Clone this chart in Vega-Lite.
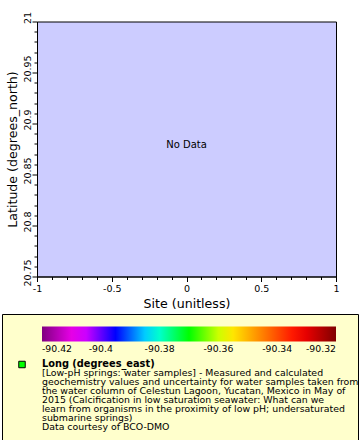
{
  "$schema": "https://vega.github.io/schema/vega-lite/v6.json",
  "padding": {"left": 1, "top": 10.5, "right": 0, "bottom": 0},
  "spacing": 2.5,
  "config": {
    "font": "DejaVu Sans",
    "view": {"stroke": "black", "strokeWidth": 1},
    "axis": {"grid": false, "domainColor": "black", "tickColor": "black", "labelColor": "black", "titleColor": "black", "labelFont": "DejaVu Sans", "titleFont": "DejaVu Sans", "titleFontWeight": "normal", "labelOverlap": false, "labelFlush": false, "labelBound": false}
  },
  "datasets": {
    "samples": [],
    "gap": [],
    "note": [{"label": "No Data"}],
    "key": [{"variable": "Long (degrees_east)"}],
    "description": [
      {"line": 1, "text": "[Low-pH springs: water samples] - Measured and calculated"},
      {"line": 2, "text": "geochemistry values and uncertainty for water samples taken from"},
      {"line": 3, "text": "the water column of Celestun Lagoon, Yucatan, Mexico in May of"},
      {"line": 4, "text": "2015 (Calcification in low saturation seawater: What can we"},
      {"line": 5, "text": "learn from organisms in the proximity of low pH; undersaturated"},
      {"line": 6, "text": "submarine springs)"},
      {"line": 7, "text": "Data courtesy of BCO-DMO"}
    ]
  },
  "vconcat": [
    {
      "spacing": 0,
      "hconcat": [
        {
          "width": 3,
          "height": 1,
          "view": {"stroke": null, "fill": null},
          "data": {"name": "gap"},
          "mark": {"type": "text"},
          "encoding": {}
        },
        {
          "width": 299,
          "height": 255,
          "view": {"fill": "#ccccff", "stroke": "black"},
          "layer": [
            {
              "data": {"name": "samples"},
              "mark": {"type": "point", "filled": true, "opacity": 1},
              "encoding": {
                "x": {
                  "field": "site", "type": "quantitative",
                  "scale": {"domain": [-1, 1], "nice": false, "zero": false},
                  "axis": {
                    "title": "Site (unitless)", "titleFontSize": 12.6, "titlePadding": 4,
                    "values": [-1, -0.9, -0.8, -0.7, -0.6, -0.5, -0.4, -0.3, -0.2, -0.1, 0, 0.1, 0.2, 0.3, 0.4, 0.5, 0.6, 0.7, 0.8, 0.9, 1],
                    "tickCount": 200,
                    "labelExpr": "abs(datum.value*2 - round(datum.value*2)) < 0.001 ? '' + datum.value : ''",
                    "tickSize": {"condition": {"test": "abs(datum.value*2 - round(datum.value*2)) < 0.001", "value": 5}, "value": 3},
                    "labelOverlap": false, "labelFlush": false,
                    "labelFontSize": 9.5, "labelPadding": 2
                  }
                },
                "y": {
                  "field": "lat", "type": "quantitative",
                  "scale": {"domain": [20.75, 21], "nice": false, "zero": false},
                  "axis": {
                    "title": "Latitude (degrees_north)", "titleFontSize": 12.6, "titlePadding": 3,
                    "values": [20.75, 20.76, 20.77, 20.78, 20.79, 20.8, 20.81, 20.82, 20.83, 20.84, 20.85, 20.86, 20.87, 20.88, 20.89, 20.9, 20.91, 20.92, 20.93, 20.94, 20.95, 20.96, 20.97, 20.98, 20.99, 21],
                    "tickCount": 200,
                    "labelExpr": "abs(datum.value*20 - round(datum.value*20)) < 0.001 ? '' + datum.value : ''",
                    "tickSize": {"condition": {"test": "abs(datum.value*20 - round(datum.value*20)) < 0.001", "value": 5}, "value": 3},
                    "labelOverlap": false, "labelFlush": false,
                    "labelFontSize": 9.5, "labelPadding": 0, "labelAngle": 270, "labelAlign": "center", "labelBaseline": "bottom", "labelOffset": -4
                  }
                },
                "color": {
                  "field": "long", "type": "quantitative",
                  "scale": {
                    "domain": [-90.42, -90.4075, -90.395, -90.3825, -90.37, -90.3575, -90.345, -90.3325, -90.32],
                    "range": ["#800080", "#ff00ff", "#0000ff", "#00ffff", "#00ff00", "#ffff00", "#ff8000", "#ff0000", "#800000"],
                    "interpolate": "rgb"
                  },
                  "legend": {
                    "orient": "none", "legendX": 40, "legendY": 305, "direction": "horizontal",
                    "gradientLength": 294, "gradientThickness": 15, "gradientStrokeWidth": 0, "gradientOpacity": 1,
                    "title": null, "padding": 0,
                    "values": [-90.42, -90.4, -90.38, -90.36, -90.34, -90.32],
                    "labelExpr": "'' + datum.value", "labelAlign": "center", "labelFontSize": 9.3, "labelOffset": 3, "labelColor": "black", "labelOverlap": false
                  }
                }
              }
            },
            {
              "data": {"name": "note"},
              "mark": {"type": "text", "fontSize": 10, "color": "black", "baseline": "middle"},
              "encoding": {
                "x": {"datum": 0, "type": "quantitative"},
                "y": {"datum": 20.879, "type": "quantitative"},
                "text": {"field": "label"}
              }
            }
          ]
        }
      ]
    },
    {
      "width": 356,
      "height": 126,
      "view": {"fill": "#ffffcc", "stroke": "black"},
      "layer": [
        {
          "data": {"name": "key"},
          "mark": {"type": "square", "size": 42, "filled": true, "fill": "#00ff00", "stroke": "black", "strokeWidth": 1, "opacity": 1},
          "encoding": {
            "x": {"datum": 20, "type": "quantitative", "scale": {"domain": [0, 356], "nice": false, "zero": false}, "axis": null},
            "y": {"datum": 0, "type": "quantitative", "scale": {"domain": [-5.611, 8.389], "nice": false, "zero": false, "reverse": true}, "axis": null}
          }
        },
        {
          "data": {"name": "key"},
          "mark": {"type": "text", "fontSize": 9.8, "fontWeight": "bold", "align": "left", "baseline": "middle", "color": "black"},
          "encoding": {
            "x": {"datum": 40, "type": "quantitative"},
            "y": {"datum": 0, "type": "quantitative"},
            "text": {"field": "variable"}
          }
        },
        {
          "data": {"name": "description"},
          "mark": {"type": "text", "fontSize": 9.4, "align": "left", "baseline": "middle", "color": "black", "clip": true},
          "encoding": {
            "x": {"datum": 40, "type": "quantitative"},
            "y": {"field": "line", "type": "quantitative"},
            "text": {"field": "text"}
          }
        }
      ]
    }
  ]
}
